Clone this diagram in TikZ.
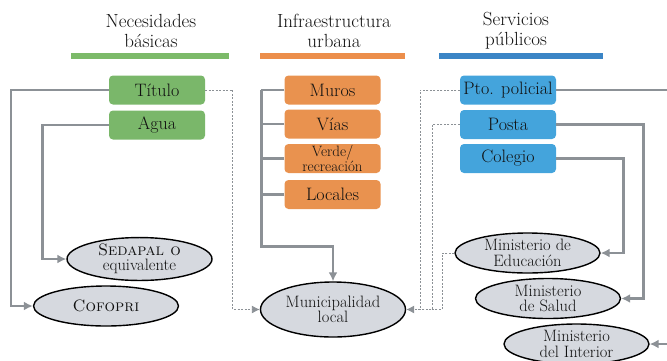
\documentclass[tikz,border=0pt]{standalone}
\usetikzlibrary{arrows.meta,shapes.geometric,calc}
\definecolor{cgreen}{HTML}{7AB76A}
\definecolor{corange}{HTML}{E9924F}
\definecolor{cblue}{HTML}{44A4DC}
\definecolor{bgreen}{HTML}{7CBA69}
\definecolor{borange}{HTML}{EC8E4B}
\definecolor{bblue}{HTML}{3B85C6}
\definecolor{cgray}{HTML}{8C9196}
\definecolor{ovalfill}{HTML}{D6D9DF}
\definecolor{txt}{HTML}{111111}
\tikzset{
  conn/.style={draw=cgray, line width=2.6pt},
  dconn/.style={draw=cgray, line width=0.9pt, dash pattern=on 2pt off 1.5pt},
  tipA/.style={-{Latex[length=9pt,width=9pt]}},
  tipB/.style={-{Latex[length=8pt,width=8pt]}},
  stepbox/.style={rounded corners=4pt, minimum width=96pt, minimum height=29pt, inner sep=0pt,
    font=\fontsize{18}{20}\selectfont, text=txt, align=center},
  oval/.style={ellipse, draw=black, line width=1.4pt, fill=ovalfill, minimum width=145pt,
    minimum height=40pt, inner sep=0pt, align=center, font=\fontsize{16.5}{15.5}\selectfont, text=txt},
  head/.style={align=center, font=\fontsize{19}{20}\selectfont, text=txt},
  bar/.style={line width=6pt}
}
\begin{document}
\begin{tikzpicture}[x=1pt,y=-1pt]
\useasboundingbox (0,0) rectangle (667,360);
\clip (0,0) rectangle (667,360);
% headers
\node[head] (h1) at (151,31) {Necesidades\\básicas};
\node[head] (h2) at (334,31) {Infraestructura\\urbana};
\node[head] (h3) at (516,31) {Servicios\\públicos};
\draw[bar, bgreen] (71,56) -- (229,56);
\draw[bar, borange] (260,56) -- (405,56);
\draw[bar, bblue] (439,56) -- (603,56);
% boxes
\node[stepbox, fill=cgreen] (titulo) at (157,90) {Título};
\node[stepbox, fill=cgreen] (agua) at (157,125) {Agua};
\node[stepbox, fill=corange] (muros) at (332.5,90) {Muros};
\node[stepbox, fill=corange] (vias) at (332.5,124) {Vías};
\node[stepbox, fill=corange, font=\fontsize{15}{13}\selectfont] (verde) at (332.5,158.5) {Verde/\\recreación};
\node[stepbox, fill=corange] (locales) at (332.5,194.5) {Locales};
\node[stepbox, fill=cblue] (pto) at (508,90) {Pto. policial};
\node[stepbox, fill=cblue] (posta) at (508,124.5) {Posta};
\node[stepbox, fill=cblue] (colegio) at (508,158.5) {Colegio};
% ovals
\node[oval] (sedapal) at (139.5,259) {\textsc{Sedapal o}\\equivalente};
\node[oval] (cofopri) at (106,306) {\textsc{Cofopri}};
\node[oval, minimum height=55pt] (muni) at (333,309.5) {Municipalidad\\local};
\node[oval] (educ) at (527.5,253) {Ministerio de\\Educación};
\node[oval] (salud) at (548,298.5) {Ministerio\\de Salud};
\node[oval] (interior) at (576.5,344) {Ministerio\\del Interior};
% left connectors
\draw[conn, tipA] (titulo.west) -| ([xshift=-22pt]cofopri.west) -- (cofopri.west);
\draw[conn, tipA] (agua.west) -| ([xshift=-24pt]sedapal.west) -- (sedapal.west);
\draw[dconn, tipB] (titulo.east) -| ([xshift=-27pt]muni.west) -- (muni.west);
% infrastructure trunk
\draw[conn] (muros.west) -- ++(-23,0) coordinate (trunk);
\draw[conn, tipA] (trunk) |- ([yshift=35pt]muni.north) -- (muni.north);
\draw[conn] (vias.west) -- (vias.west -| trunk);
\draw[conn] (verde.west) -- (verde.west -| trunk);
\draw[conn] (locales.west) -- (locales.west -| trunk);
% right dashed to municipality
\draw[dconn, tipB] (pto.west) -| ([xshift=14pt]muni.east) -- (muni.east);
\draw[dconn] (posta.west) -| ([xshift=26pt]muni.east) -- ([xshift=14pt]muni.east);
\draw[dconn] (educ.west) -| ([xshift=36pt]muni.east) -- ([xshift=26pt]muni.east);
% right solid
\draw[conn, tipA] (colegio.east) -| ([xshift=23pt]educ.east) -- (educ.east);
\draw[conn, tipA] (posta.east) -| ([xshift=22pt]salud.east) -- (salud.east);
\draw[conn, tipA] (pto.east) -| ([xshift=40pt]interior.east) -- (interior.east);
\end{tikzpicture}
\end{document}
